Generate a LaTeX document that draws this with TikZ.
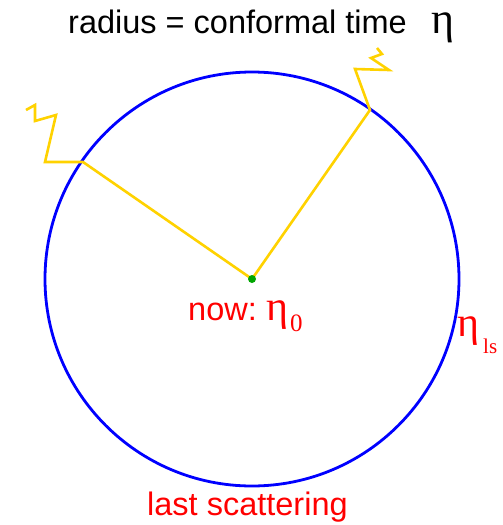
\documentclass[tikz,border=0pt]{standalone}
\usepackage{fontspec}
\setmainfont{Liberation Sans}
\newfontfamily\symf{Liberation Serif}
\definecolor{ray}{RGB}{255,210,0}
\definecolor{dotg}{RGB}{0,165,0}
\definecolor{lsred}{RGB}{255,0,0}
\begin{document}
\begin{tikzpicture}[x=1pt,y=-1pt,
  raystyle/.style={ray,line width=2.6pt,line join=miter},
  lbl/.style={inner sep=0pt,anchor=base west,font=\fontsize{32.5}{36}\selectfont},
  redlbl/.style={lbl,text=lsred}]
\useasboundingbox (0,0) rectangle (503,525);
\coordinate (c) at (252,279);
\draw[blue,line width=2.8pt] (c) circle[radius=207pt];
% left ray and wiggle
\coordinate (pL) at (83,162);
\coordinate (l1) at (45,162);
\coordinate (l2) at (56,115);
\coordinate (l3) at (35,121);
\coordinate (l4) at (35,105);
\coordinate (l5) at (26,110);
\draw[raystyle] (c) -- (pL) -- (l1) -- (l2) -- (l3) -- (l4) -- (l5);
% right ray and wiggle
\coordinate (pR) at (370,110);
\coordinate (r1) at (355,69);
\coordinate (r2) at (389,70);
\coordinate (r3) at (371,58);
\coordinate (r4) at (382,54);
\coordinate (r5) at (377,48);
\draw[raystyle] (c) -- (pR) -- (r1) -- (r2) -- (r3) -- (r4) -- (r5);
\node[circle,fill=dotg,inner sep=0pt,minimum size=8pt] (dot) at (c) {};
% texts
\node[lbl] (title) at (68,33) {radius = conformal time};
\node[inner sep=0pt,anchor=base west,font=\symf\fontsize{44}{48}\selectfont] (eta) at (431,33) {η};
\node[redlbl] (now) at (188,320) {now:};
\node[inner sep=0pt,anchor=base west,text=lsred,font=\symf\fontsize{42}{46}\selectfont] (eta0) at (266,320) {η};
\node[inner sep=0pt,anchor=base west,text=lsred,font=\symf\fontsize{25}{28}\selectfont] (sub0) at (290,331) {0};
\node[inner sep=0pt,anchor=base west,text=lsred,font=\symf\fontsize{42}{46}\selectfont] (etals) at (457,336) {η};
\node[inner sep=0pt,anchor=base west,text=lsred,font=\symf\fontsize{21}{24}\selectfont] (subls) at (483,353) {ls};
\node[redlbl] (last) at (147,515) {last scattering};
\end{tikzpicture}
\end{document}
